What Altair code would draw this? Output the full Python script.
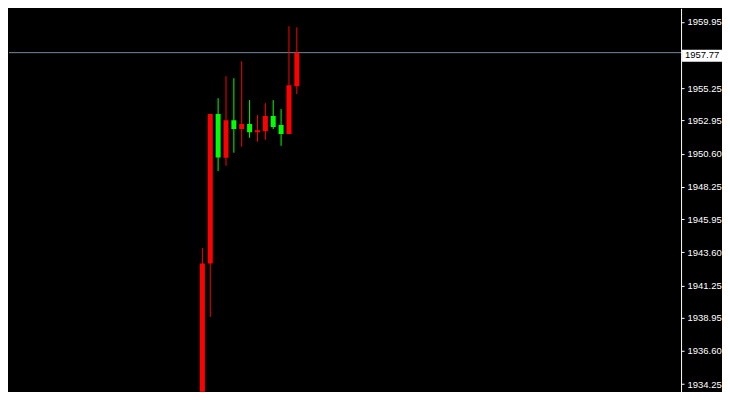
import altair as alt
import pandas as pd

# Candle data (index, OHLC)
idx = list(range(13))
opens = [1931.00, 1942.80, 1953.41, 1950.31, 1952.98, 1952.35, 1952.70, 1952.13, 1952.20, 1953.27, 1952.63, 1951.99, 1955.39]
closes = [1942.80, 1953.41, 1950.33, 1952.98, 1952.35, 1952.70, 1952.13, 1952.27, 1953.27, 1952.49, 1951.99, 1955.46, 1957.77]
highs = [1943.91, 1953.41, 1954.54, 1956.10, 1955.96, 1957.16, 1954.40, 1953.34, 1954.19, 1954.40, 1953.76, 1959.65, 1959.57]
lows = [1930.50, 1939.02, 1949.37, 1949.74, 1950.67, 1951.09, 1951.73, 1951.45, 1951.59, 1952.35, 1951.16, 1951.99, 1954.83]

tick_values = [1959.95, 1955.25, 1952.95, 1950.60, 1948.25, 1945.95, 1943.60, 1941.25, 1938.95, 1936.60, 1934.25]
current_price = 1957.77
current_label = "1957.77"

df = pd.DataFrame({"i": idx, "open": opens, "close": closes, "high": highs, "low": lows})

W = 673
H = 384

xscale = alt.Scale(domain=[-23.9375, 60.1875], nice=False, zero=False)
yscale = alt.Scale(domain=[1933.706, 1960.921], nice=False, zero=False)

yaxis = alt.Axis(orient="right", values=tick_values, format=".2f",
                 title=None, grid=False, domainColor="#ffffff",
                 tickColor="#ffffff", tickSize=3, labelPadding=3,
                 labelColor="#ffffff", labelFont="Liberation Sans",
                 labelFontSize=9.5, labelOverlap=False, labelFlush=False,
                 labelBound=False)

color = alt.condition("datum.close >= datum.open", alt.value("#ff0000"), alt.value("#00ff00"))

base = alt.Chart(df)

price_line = alt.Chart(pd.DataFrame({"p": [current_price]})).mark_rule(
    color="#778899", strokeWidth=1
).encode(y=alt.Y("p:Q", scale=yscale, axis=yaxis))

wicks = base.mark_rule(strokeWidth=1, clip=True).encode(
    x=alt.X("i:Q", scale=xscale, axis=None),
    y=alt.Y("low:Q", scale=yscale, axis=yaxis),
    y2="high:Q",
    color=color,
)

bodies = base.mark_bar(size=5, clip=True).encode(
    x=alt.X("i:Q", scale=xscale, axis=None),
    y=alt.Y("open:Q", scale=yscale, axis=yaxis),
    y2="close:Q",
    color=color,
)

box_df = pd.DataFrame({"p": [current_price], "t": [current_label]})
box = alt.Chart(box_df).mark_rect(color="#ffffff", yOffset=-3, y2Offset=9).encode(
    x=alt.value(W + 1), x2=alt.value(W + 41),
    y=alt.Y("p:Q", scale=yscale, axis=yaxis), y2="p:Q",
)
box_text = alt.Chart(box_df).mark_text(
    align="left", baseline="middle", dy=2.5, color="#000000",
    font="Liberation Sans", fontSize=9.5
).encode(
    x=alt.value(W + 4),
    y=alt.Y("p:Q", scale=yscale, axis=yaxis),
    text="t:N",
)

chart = alt.layer(price_line, wicks, bodies, box, box_text).properties(
    width=W, height=H, padding=0, background="#000000"
).configure_view(stroke=None).configure_axis(labelOverlap=False)

chart.save("out.html", embed_options={"renderer": "svg", "actions": False})
